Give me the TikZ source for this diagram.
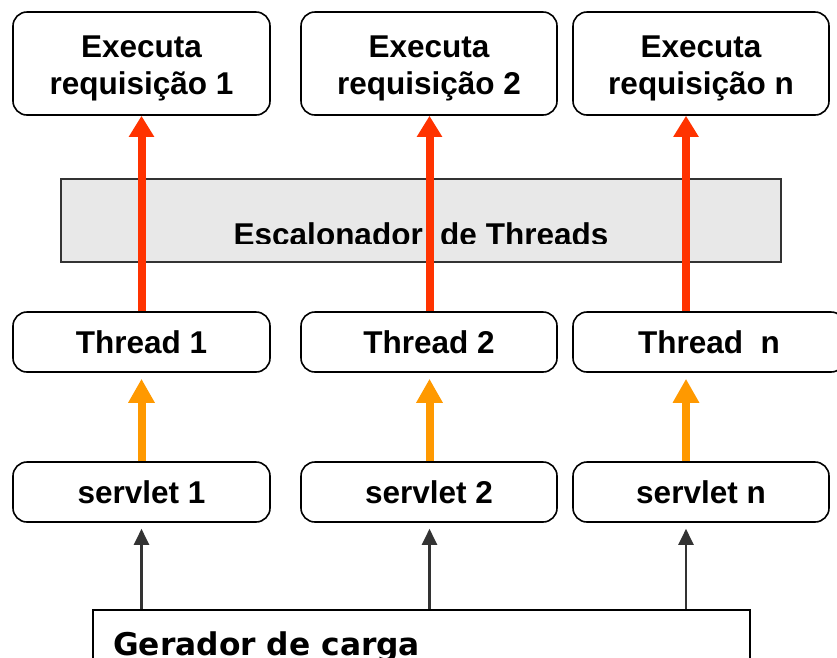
\documentclass[tikz,border=0pt]{standalone}
\usepackage{fontspec}
\setmainfont{Liberation Sans}
\newfontfamily\gerfont{DejaVu Sans}
\usetikzlibrary{arrows.meta}

\definecolor{execred}{HTML}{FF3300}
\definecolor{runorange}{HTML}{FF9900}
\definecolor{schedgray}{HTML}{E8E8E8}
\definecolor{darkline}{HTML}{333333}

\tikzset{
  labelfont/.style={font=\bfseries\fontsize{31.5}{37}\selectfont},
  roundbox/.style={draw=black, line width=1.6pt, rounded corners=14pt, fill=white,
    align=center, inner sep=0pt, labelfont},
  toprow/.style={roundbox, minimum width=257pt, minimum height=103pt},
  midrow/.style={roundbox, minimum width=257pt, minimum height=60pt},
  schedbox/.style={draw=darkline, line width=1.6pt, fill=schedgray,
    minimum width=720pt, minimum height=83pt, inner sep=0pt},
  loadbox/.style={draw=black, line width=1.5pt, fill=white,
    minimum width=657pt, minimum height=90pt, inner sep=0pt},
  execarrow/.style={draw=execred, line width=8pt,
    -{Triangle[length=21pt,width=24pt]}},
  runarrow/.style={draw=runorange, line width=8pt, shorten >=6pt,
    -{Triangle[length=24pt,width=25pt]}},
  callarrow/.style={draw=darkline, line width=2.2pt, shorten >=6pt,
    -{Triangle[length=16pt,width=15pt]}},
}
% taller first line, so the two-line labels sit a little lower
\newcommand{\toplift}{\rule{0pt}{31pt}}

\begin{document}
\begin{tikzpicture}[x=1pt, y=-1pt]
  \useasboundingbox (0,0) rectangle (837,657);
  \clip (0,0) rectangle (837,657);

  % columns of the arrows
  \coordinate (c1) at (141.5,0);
  \coordinate (c2) at (429.5,0);
  \coordinate (c3) at (686,0);

  % request execution boxes
  \node[toprow] (e1) at (141.5,63.5) {\toplift Executa\\requisição 1};
  \node[toprow, minimum width=256pt] (e2) at (429,63.5) {\toplift Executa\\requisição 2};
  \node[toprow, minimum width=256pt] (e3) at (701,63.5) {\toplift Executa\\requisição n};

  % thread scheduler
  \node[schedbox] (esc) at (421,220.5) {};
  \begin{scope}
    \clip (61,179) rectangle (781,243);
    \node[labelfont, anchor=base, inner sep=0pt] (esctext) at (421,245.5)
      {Escalonador\ \ de Threads};
  \end{scope}

  % threads
  \node[midrow] (t1) at (141.5,342) {Thread 1};
  \node[midrow, minimum width=256pt] (t2) at (429,342) {Thread 2};
  \node[midrow, minimum width=272pt] (t3) at (709,342) {Thread\ \ n};

  % servlets
  \node[midrow] (s1) at (141.5,492) {servlet 1};
  \node[midrow, minimum width=256pt] (s2) at (429,492) {servlet 2};
  \node[midrow, minimum width=256pt] (s3) at (701,492) {servlet n};

  % load generator
  \node[loadbox] (ger) at (421.5,655) {};
  \node[anchor=base west, inner sep=0pt,
        font=\gerfont\bfseries\fontsize{31.3}{37}\selectfont] (gertext) at (113,655)
    {Gerador de carga};

  % load generator -> servlets
  \draw[callarrow] (ger.north -| c1) -- (s1.south -| c1);
  \draw[callarrow] (ger.north -| c2) -- (s2.south -| c2);
  \draw[callarrow] (ger.north -| c3) -- (s3.south -| c3);

  % servlets -> threads
  \draw[runarrow] (s1.north -| c1) -- (t1.south -| c1);
  \draw[runarrow] (s2.north -| c2) -- (t2.south -| c2);
  \draw[runarrow] (s3.north -| c3) -- (t3.south -| c3);

  % threads -> request execution
  \draw[execarrow] (t1.north -| c1) -- (e1.south -| c1);
  \draw[execarrow] (t2.north -| c2) -- (e2.south -| c2);
  \draw[execarrow] (t3.north -| c3) -- (e3.south -| c3);
\end{tikzpicture}
\end{document}
